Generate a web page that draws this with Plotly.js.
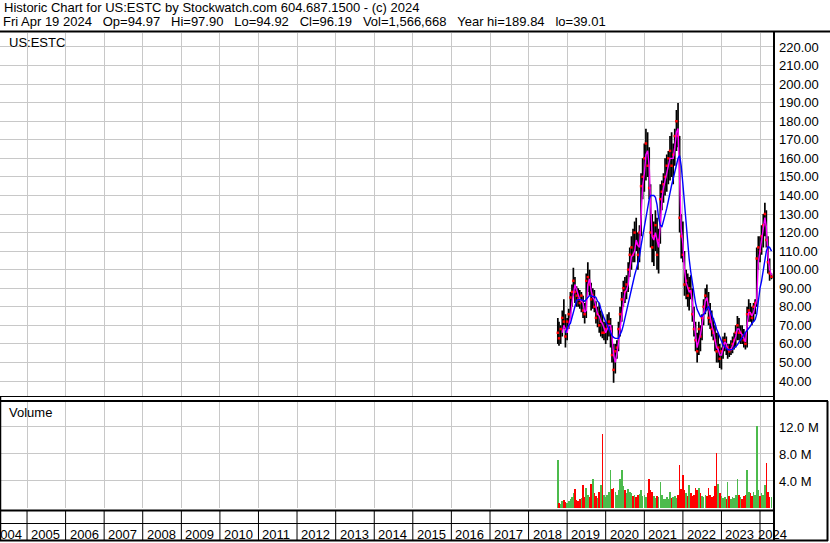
<!DOCTYPE html>
<html><head><meta charset="utf-8">
<script src="https://cdn.plot.ly/plotly-3.0.1.min.js"></script>
<style>html,body{margin:0;padding:0;background:#fff;overflow:hidden}#chart{width:830px;height:543px}</style>
</head><body><div id="chart"></div>
<script>
// ---- data (semi-monthly bars) ----
const dates = [
'2018-10-05','2018-10-16','2018-11-01','2018-11-16','2018-12-01','2018-12-16',
'2019-01-01','2019-01-16','2019-02-01','2019-02-16','2019-03-01','2019-03-16','2019-04-01','2019-04-16','2019-05-01','2019-05-16','2019-06-01','2019-06-16',
'2019-07-01','2019-07-16','2019-08-01','2019-08-16','2019-09-01','2019-09-16','2019-10-01','2019-10-16','2019-11-01','2019-11-16','2019-12-01','2019-12-16',
'2020-01-01','2020-01-16','2020-02-01','2020-02-16','2020-03-01','2020-03-16','2020-04-01','2020-04-16','2020-05-01','2020-05-16','2020-06-01','2020-06-16',
'2020-07-01','2020-07-16','2020-08-01','2020-08-16','2020-09-01','2020-09-16','2020-10-01','2020-10-16','2020-11-01','2020-11-16','2020-12-01','2020-12-16',
'2021-01-01','2021-01-16','2021-02-01','2021-02-16','2021-03-01','2021-03-16','2021-04-01','2021-04-16','2021-05-01','2021-05-16','2021-06-01','2021-06-16',
'2021-07-01','2021-07-16','2021-08-01','2021-08-16','2021-09-01','2021-09-16','2021-10-01','2021-10-16','2021-11-01','2021-11-16','2021-12-01','2021-12-16',
'2022-01-01','2022-01-16','2022-02-01','2022-02-16','2022-03-01','2022-03-16','2022-04-01','2022-04-16','2022-05-01','2022-05-16','2022-06-01','2022-06-16',
'2022-07-01','2022-07-16','2022-08-01','2022-08-16','2022-09-01','2022-09-16','2022-10-01','2022-10-16','2022-11-01','2022-11-16','2022-12-01','2022-12-16',
'2023-01-01','2023-01-16','2023-02-01','2023-02-16','2023-03-01','2023-03-16','2023-04-01','2023-04-16','2023-05-01','2023-05-16','2023-06-01','2023-06-16',
'2023-07-01','2023-07-16','2023-08-01','2023-08-16','2023-09-01','2023-09-16','2023-10-01','2023-10-16','2023-11-01','2023-11-16','2023-12-01','2023-12-16',
'2024-01-01','2024-01-16','2024-02-01','2024-02-16','2024-03-01','2024-03-16','2024-04-01','2024-04-19'
];
const openP = [
62,66,63,68,74,72,
64,72,76,85,88,94,88,86,84,82,86,78,76,94,96,92,84,86,80,74,76,70,72,66,
66,68,70,64,68,54,46,56,58,68,76,84,90,88,92,100,108,112,108,120,114,108,120,145,
150,160,168,156,144,120,112,118,124,108,116,138,142,146,150,156,160,164,156,162,172,180,170,128,
118,108,92,94,86,90,88,76,68,62,56,68,64,74,80,86,84,74,72,68,66,62,56,58,
52,56,60,62,55,58,56,57,60,62,66,70,66,66,64,62,60,76,78,76,74,80,82,106,
112,110,118,124,130,116,104,94.97
];
const highP = [
74,72,70,78,84,76,
74,79,88,92,101,96,91,90,89,88,86,82,98,104,100,93,90,89,83,80,82,78,76,72,
72,76,77,74,70,60,60,62,72,80,88,94,96,97,104,112,118,122,126,128,120,124,152,160,
168,176,174,166,146,130,126,132,128,122,146,148,152,160,162,164,172,174,168,176,186,189.84,172,130,
126,110,100,98,96,97,90,80,72,66,72,70,76,84,90,92,88,82,78,74,70,66,66,60,
58,64,66,64,60,60,62,64,66,70,75,74,70,70,68,66,80,84,82,80,82,84,112,118,
118,124,130,136,132,118,106,97.90
];
const lowP = [
60,59,60,64,68,58,
62,68,74,80,86,82,80,80,79,77,74,71,74,88,86,78,79,77,71,69,66,64,63,62,
60,62,64,58,50,39.01,44,52,56,64,72,80,82,84,88,96,100,104,104,110,100,104,118,138,
142,148,150,138,112,104,102,110,100,98,114,132,136,140,142,146,148,150,146,156,164,166,120,106,
104,86,84,80,78,84,72,64,56,50,54,56,62,70,76,78,70,68,64,62,56,50,50,47,
46.2,52,56,54,52,53,54,55,57,58,62,62,60,60,58,57,58,72,72,70,72,76,80,100,
104,108,112,118,112,98,94,94.92
];
const closeP = [
66,63,68,74,72,64,
72,76,85,88,94,88,86,84,82,86,78,76,94,96,92,84,86,80,74,76,70,72,66,66,
68,70,72,68,54,46,56,58,68,76,84,90,88,92,100,108,112,108,120,114,108,120,145,150,
160,168,156,144,120,112,118,124,108,116,138,142,146,150,156,160,164,156,162,172,180,172,128,118,
108,92,94,86,90,88,76,68,62,56,68,64,74,80,86,84,74,72,68,66,62,56,58,52,
56,60,62,58,58,56,57,60,62,66,70,66,66,64,62,60,76,78,76,74,80,82,106,112,
110,118,124,130,116,104,98,96.19
];
const volM = [
7.1,0.8,0.6,1.0,1.2,0.9,
0.7,1.1,1.3,1.6,2.2,2.8,1.2,1.0,1.4,1.5,3.4,1.6,2.9,2.0,1.6,3.6,4.3,2.2,1.8,1.5,2.4,3.4,10.9,2.0,
1.6,1.9,2.4,5.7,2.8,3.0,2.4,2.0,2.6,4.3,5.6,3.2,2.6,2.2,2.8,2.4,2.2,1.8,2.0,1.6,1.9,2.1,2.6,1.8,
2.0,1.7,2.2,4.3,2.6,2.4,1.8,1.5,1.8,1.6,3.9,2.0,1.4,1.3,1.6,1.4,2.4,1.5,1.7,1.8,1.5,2.0,6.4,2.8,
4.9,2.6,2.2,1.8,3.4,2.2,1.8,2.0,3.0,2.6,3.0,2.2,1.8,1.6,2.0,1.8,3.0,2.0,1.6,1.8,3.2,8.2,3.6,2.2,
1.8,1.5,1.6,1.4,3.9,1.8,1.4,1.6,1.5,2.0,4.3,2.0,1.6,1.4,1.8,2.0,5.7,2.4,2.2,1.8,2.4,2.0,12.2,2.6,
1.8,2.2,1.9,3.4,6.6,2.4,1.6,1.57
];
const maShort = [
null,null,null,66,70,68,
66,70,74,82,87,92,89,86,84,83,82,77,78,92,95,89,85,84,80,76,75,72,71,68,
66,68,70,70,64,54,50,55,60,68,76,84,88,89,92,100,107,108,110,116,113,112,128,145,
152,162,164,156,136,118,116,120,116,112,124,138,144,148,152,156,160,160,160,166,174,176,150,122,
114,100,93,90,88,89,82,72,64,58,62,65,70,77,83,85,80,74,70,67,63,58,57,54,
54,58,61,60,57,57,57,59,61,64,68,68,66,65,63,61,70,77,77,75,77,81,84,104,
110,115,121,128,123,108,100,97
];
const maLong = [
null,null,null,null,null,66,
68,70,71,74,78,81,83.5,84,84,84,83.6,83,84,85,86,86,85.5,85.5,85,83,82,79,76,74,
72,70,68,66,64.5,63.5,63,63,63,65,67,70,74,78,82.5,86,90,93.5,97,100,103,107,113,118,
124,130,135,138,140,140,140,139,135,128,124,123,126,130,133,137,142,145.5,149,153,157,160,161.5,156,
146,135,124,115,106,99,92,87,82,78.5,76,74.7,75,76,77,79,80,78,76,74,71,68,66,64,
61,59.5,58.5,57.5,57,56.7,56.7,57,57.8,58.5,59.5,61,62,63.5,65,66,67,68.5,69.5,71,72,73,76,83,
90,94,100,106,110,112.4,112,110
];
const yearLabels = ['2004','2005','2006','2007','2008','2009','2010','2011','2012','2013','2014',
  '2015','2016','2017','2018','2019','2020','2021','2022','2023','2024'];
const volTickVals = [4, 8, 12];
const volTickText = ['4.0 M', '8.0 M', '12.0 M'];
const headerLine1 = 'Historic Chart for US:ESTC by Stockwatch.com 604.687.1500 - (c) 2024';
const headerLine2 = ['Fri Apr 19 2024', 'Op=94.97', 'Hi=97.90', 'Lo=94.92', 'Cl=96.19', 'Vol=1,566,668', 'Year hi=189.84', 'lo=39.01'];

// ---- layout helpers (pixel -> paper) ----
const W = 830, H = 543;
const px = v => v / W;
const py = v => 1 - v / H;
const FONT = 'Liberation Sans, Arial, sans-serif';
const GRID = '#c8c8c8';
const yearStart = y => y + '-01-01';

const volColors = closeP.map((c, i) => c >= openP[i] ? '#4cbb4c' : '#ff0000');

const traces = [
  {type: 'ohlc', x: dates, open: openP, high: highP, low: lowP, close: closeP,
   xaxis: 'x', yaxis: 'y', tickwidth: 0.3, hoverinfo: 'skip',
   increasing: {line: {color: '#000000', width: 1.7}},
   decreasing: {line: {color: '#000000', width: 1.7}}},
  {type: 'scatter', mode: 'markers', x: dates, y: closeP, xaxis: 'x', yaxis: 'y',
   marker: {symbol: 'square', size: 2.5, color: '#ff0000'}, hoverinfo: 'skip'},
  {type: 'scatter', mode: 'lines', x: dates, y: maShort, xaxis: 'x', yaxis: 'y',
   line: {color: '#ff00ff', width: 1.4}, connectgaps: false, hoverinfo: 'skip'},
  {type: 'scatter', mode: 'lines', x: dates, y: maLong, xaxis: 'x', yaxis: 'y',
   line: {color: '#0000ff', width: 1.4}, connectgaps: false, hoverinfo: 'skip'},
  {type: 'bar', x: dates, y: volM, xaxis: 'x', yaxis: 'y2', width: 15 * 86400000,
   marker: {color: volColors, line: {width: 0}}, hoverinfo: 'skip'}
];

const shapes = [];
const L = (x0, y0, x1, y1, w, xref) => shapes.push({type: 'line', xref: xref || 'paper', yref: 'paper',
  x0: x0, x1: x1, y0: y0, y1: y1, line: {color: '#000000', width: w}, layer: 'above'});
L(0, py(31.5), 1, py(31.5), 2);               // header rule
L(0, py(396.5), px(774), py(396.5), 1);       // price panel bottom
L(0, py(401), px(828), py(401), 2);           // volume panel top
L(0, py(510.5), px(774), py(510.5), 2);       // volume bottom
L(0, py(523.5), px(774), py(523.5), 1);       // year rows separator
L(0, py(540.5), px(828), py(540.5), 2);       // bottom
L(px(774), py(31.5), px(774), py(541), 2);    // right border of plot
L(px(827.5), py(401), px(827.5), py(541), 2); // right box edge
L(px(0.5), py(396), px(0.5), py(541), 1.5);   // left edge lower
for (let i = 1; i < yearLabels.length; i++) {
  L(yearStart(yearLabels[i]), py(510.5), yearStart(yearLabels[i]), py(540.5), 1, 'x');
}

const annotations = [
  {xref: 'paper', yref: 'paper', x: px(2), y: py(7.7), xanchor: 'left', yanchor: 'middle', showarrow: false, text: headerLine1},
  {xref: 'paper', yref: 'paper', x: px(1), y: py(21.5), xanchor: 'left', yanchor: 'middle', showarrow: false,
   text: headerLine2.join('\u00a0\u00a0\u00a0')},
  {xref: 'paper', yref: 'paper', x: px(7), y: py(42.3), xanchor: 'left', yanchor: 'middle', showarrow: false, text: 'US:ESTC'},
  {xref: 'paper', yref: 'paper', x: px(7), y: py(412.5), xanchor: 'left', yanchor: 'middle', showarrow: false, text: 'Volume'}
];
yearLabels.forEach((yl, i) => {
  if (i === 0) {
    annotations.push({xref: 'x', yref: 'paper', x: yearStart(yearLabels[1]), y: py(534), xanchor: 'right', xshift: -3,
      yanchor: 'middle', showarrow: false, text: yl});
  } else {
    annotations.push({xref: 'x', yref: 'paper', x: yearStart(yl), y: py(534), xanchor: 'left',
      xshift: (i === yearLabels.length - 1) ? -4 : 2, yanchor: 'middle', showarrow: false, text: yl});
  }
});

const layout = {
  width: W, height: H, margin: {l: 0, r: 0, t: 0, b: 0, pad: 0},
  paper_bgcolor: '#ffffff', plot_bgcolor: '#ffffff', showlegend: false, hovermode: false,
  font: {family: FONT, size: 13, color: '#000000'},
  xaxis: {type: 'date', domain: [0, px(773)], range: ['2004-04-20', '2024-05-03'], anchor: 'y',
    tickvals: yearLabels.slice(1).map(yearStart), showticklabels: false, ticks: '',
    showgrid: true, gridcolor: GRID, gridwidth: 1, zeroline: false, showline: false,
    rangeslider: {visible: false}, fixedrange: true},
  yaxis: {domain: [py(396), py(33)], range: [31.92, 227.54], side: 'right', anchor: 'x',
    dtick: 10, tick0: 0, tickformat: '.2f', ticks: '', ticklabelstandoff: 5,
    showgrid: true, gridcolor: GRID, gridwidth: 1, zeroline: false, showline: false, fixedrange: true,
    tickfont: {family: FONT, size: 13, color: '#000000'}},
  yaxis2: {domain: [py(508), py(402)], range: [0, 15.7], side: 'right', anchor: 'x',
    tickvals: volTickVals, ticktext: volTickText, ticks: '', ticklabelstandoff: 5,
    showgrid: true, gridcolor: GRID, gridwidth: 1, zeroline: false, showline: false, fixedrange: true,
    tickfont: {family: FONT, size: 13, color: '#000000'}},
  bargap: 0,
  shapes: shapes,
  annotations: annotations
};

Plotly.newPlot('chart', traces, layout, {staticPlot: true, displayModeBar: false});
</script>
</body></html>
